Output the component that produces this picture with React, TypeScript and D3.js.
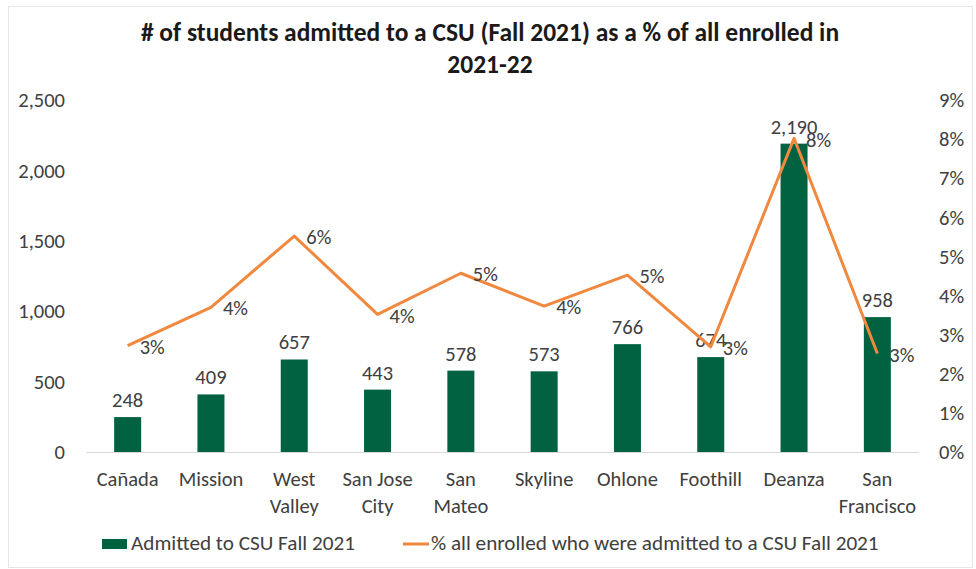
import React from "react";
import * as d3 from "d3";

const categories = ["Cañada", "Mission", "West Valley", "San Jose City", "San Mateo", "Skyline", "Ohlone", "Foothill", "Deanza", "San Francisco"];
const categoryLines = [["Cañada"], ["Mission"], ["West", "Valley"], ["San Jose", "City"], ["San", "Mateo"], ["Skyline"], ["Ohlone"], ["Foothill"], ["Deanza"], ["San", "Francisco"]];
const admitted = [248, 409, 657, 443, 578, 573, 766, 674, 2190, 958];
const pctAdmitted = [0.0272, 0.037, 0.0552, 0.0352, 0.0457, 0.0373, 0.0452, 0.0269, 0.0802, 0.0252];
const leftTicks = [0, 500, 1000, 1500, 2000, 2500];
const rightTicks = [0, 0.01, 0.02, 0.03, 0.04, 0.05, 0.06, 0.07, 0.08, 0.09];
const titleLines = ["# of students admitted to a CSU (Fall 2021) as a % of all enrolled in", "2021-22"];
const legendBar = "Admitted to CSU Fall 2021";
const legendLine = "% all enrolled who were admitted to a CSU Fall 2021";

const W = 976;
const H = 569;
const FONT = "Carlito, Calibri, Lato, sans-serif";
const GREEN = "#006241";
const ORANGE = "#F0883E";
const TEXT = "#404040";
const FS = 20.5;

export default function App() {
  const x = d3.scalePoint<string>().domain(categories).range([86, 919]).padding(0.5);
  const yL = d3.scaleLinear().domain([0, 2500]).range([452, 100]);
  const yR = d3.scaleLinear().domain([0, 0.09]).range([452, 100]);
  const barW = 27;
  const fmtN = d3.format(",");
  const fmtP = d3.format(".0%");
  const line = d3
    .line<number>()
    .x((_, i) => x(categories[i]) as number)
    .y((d) => yR(d));

  return (
    <svg width={W} height={H} style={{ position: "absolute", left: 0, top: 0, fontFamily: FONT }}>
      <rect x={0} y={0} width={W} height={H} fill="#fff" />
      <rect x={8.5} y={6.5} width={964} height={561} fill="#fff" stroke="#e6e6e6" strokeWidth={1} />
      {titleLines.map((t, i) => (
        <text key={i} x={490} y={41 + i * 32} textAnchor="middle" fontSize={25.5} fontWeight="bold" fill="#1a1a1a">
          {t}
        </text>
      ))}
      {leftTicks.map((t) => (
        <text key={t} x={65} y={yL(t)} dy="0.35em" textAnchor="end" fontSize={FS} fill={TEXT}>
          {fmtN(t)}
        </text>
      ))}
      {rightTicks.map((t) => (
        <text key={t} x={939} y={yR(t)} dy="0.35em" textAnchor="start" fontSize={FS} fill={TEXT}>
          {fmtP(t)}
        </text>
      ))}
      <line x1={86} x2={919} y1={452.5} y2={452.5} stroke="#d9d9d9" strokeWidth={1} />
      {admitted.map((v, i) => {
        const cx = x(categories[i]) as number;
        return (
          <g key={i}>
            <rect x={cx - barW / 2} y={yL(v)} width={barW} height={yL(0) - yL(v)} fill={GREEN} />
            <text x={cx} y={yL(v) - 10} textAnchor="middle" fontSize={FS} fill={TEXT}>
              {fmtN(v)}
            </text>
          </g>
        );
      })}
      <path d={line(pctAdmitted) || ""} fill="none" stroke={ORANGE} strokeWidth={3} strokeLinejoin="round" />
      {pctAdmitted.map((v, i) => {
        const cx = x(categories[i]) as number;
        return (
          <text key={i} x={cx + 12} y={yR(v)} dy="0.4em" textAnchor="start" fontSize={FS} fill={TEXT}>
            {fmtP(v)}
          </text>
        );
      })}
      {categoryLines.map((lines, i) => {
        const cx = x(categories[i]) as number;
        return (
          <text key={i} x={cx} textAnchor="middle" fontSize={FS} fill={TEXT}>
            {lines.map((l, j) => (
              <tspan key={j} x={cx} y={486 + j * 27}>
                {l}
              </tspan>
            ))}
          </text>
        );
      })}
      <rect x={102} y={539} width={25} height={10} fill={GREEN} />
      <text x={131} y={550} fontSize={21.2} fill={TEXT}>
        {legendBar}
      </text>
      <line x1={403} x2={429} y1={544} y2={544} stroke={ORANGE} strokeWidth={3} />
      <text x={431} y={550} fontSize={21.2} fill={TEXT}>
        {legendLine}
      </text>
    </svg>
  );
}
